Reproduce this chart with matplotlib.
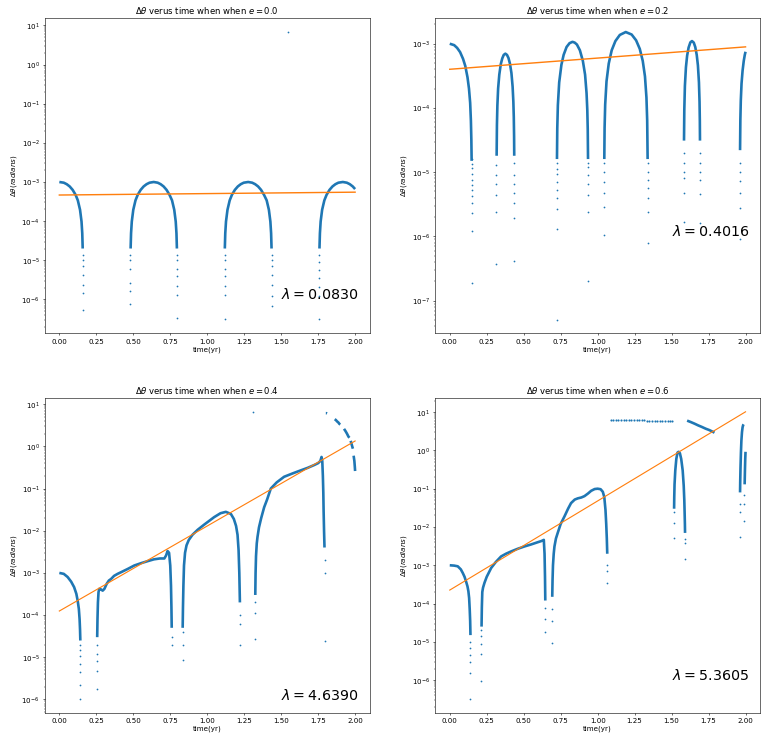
import matplotlib.pyplot as plt

ecc_labels = ["0.0", "0.2", "0.4", "0.6"]
lambda_labels = ["0.0830", "0.4016", "4.6390", "5.3605"]

# fitted exponential line, value at t=0 and t=2
fit_t = [0.0, 2.0]
fit_e00 = [4.65e-4, 5.5e-4]
fit_e02 = [4.0e-4, 8.93e-4]
fit_e04 = [1.25e-4, 1.34]
fit_e06 = [2.25e-4, 10.2]

arc_y = [2e-5, 4.9e-5, 9.8e-5, 1.95e-4, 3.4e-4, 4.7e-4, 6.3e-4, 7.7e-4, 8.8e-4, 9.6e-4, 1e-3,
         9.6e-4, 8.8e-4, 7.7e-4, 6.3e-4, 4.7e-4, 3.4e-4, 1.95e-4, 9.8e-5, 4.9e-5, 2e-5]

# e = 0.0 : dense parts of the scatter (drawn as thick curves)
e00_curves = [
    ([0.0, 0.03, 0.05, 0.07, 0.09, 0.11, 0.125, 0.14, 0.15, 0.155, 0.158],
     [1.0e-3, 9.6e-4, 8.8e-4, 7.7e-4, 6.3e-4, 4.7e-4, 3.4e-4, 1.95e-4, 9.8e-5, 4.9e-5, 2e-5]),
    ([0.482, 0.485, 0.49, 0.50, 0.515, 0.53, 0.55, 0.57, 0.59, 0.61, 0.638,
      0.665, 0.685, 0.705, 0.725, 0.745, 0.762, 0.777, 0.787, 0.792, 0.795], arc_y),
    ([1.119, 1.122, 1.127, 1.137, 1.152, 1.167, 1.187, 1.207, 1.227, 1.247, 1.277,
      1.304, 1.324, 1.344, 1.364, 1.384, 1.402, 1.417, 1.427, 1.432, 1.435], arc_y),
    ([1.759, 1.762, 1.767, 1.777, 1.792, 1.807, 1.827, 1.847, 1.867, 1.887, 1.917,
      1.944, 1.964, 1.984, 2.0],
     [2e-5, 4.9e-5, 9.8e-5, 1.95e-4, 3.4e-4, 4.7e-4, 6.3e-4, 7.7e-4, 8.8e-4, 9.6e-4, 1e-3,
      9.6e-4, 8.8e-4, 7.7e-4, 6.6e-4]),
]
# sparse points (time, values)
e00_dots = [
    (0.160, [1.4e-5, 1e-5, 7e-6, 4.3e-6, 2.4e-6, 1.45e-6, 5.3e-7]),
    (0.481, [1.4e-5, 1e-5, 6e-6, 2.7e-6, 1.65e-6, 7.8e-7]),
    (0.797, [1.4e-5, 1e-5, 6e-6, 4e-6, 2.2e-6, 1.3e-6, 3.4e-7]),
    (1.118, [1.4e-5, 1e-5, 6e-6, 4e-6, 2.2e-6, 1.3e-6, 3.2e-7]),
    (1.437, [1.4e-5, 1e-5, 7e-6, 4.3e-6, 2.4e-6, 1.2e-6, 7e-7]),
    (1.758, [1.4e-5, 9e-6, 5.5e-6, 3.6e-6, 2.1e-6, 1.2e-6, 3.1e-7]),
    (1.547, [6.6]),
]

# e = 0.2
e02_curves = [
    ([0.0, 0.03, 0.05, 0.07, 0.09, 0.105, 0.12, 0.13, 0.138, 0.143, 0.146, 0.148],
     [1.0e-3, 9.5e-4, 8.6e-4, 7.4e-4, 5.8e-4, 4.5e-4, 3.0e-4, 2.0e-4, 1.2e-4, 6.3e-5, 3.2e-5, 1.5e-5]),
    ([0.317, 0.319, 0.322, 0.327, 0.335, 0.345, 0.355, 0.365, 0.376, 0.387, 0.397, 0.407,
      0.417, 0.425, 0.43, 0.433, 0.435, 0.436],
     [1.8e-5, 5.4e-5, 1.09e-4, 2.0e-4, 3.3e-4, 4.8e-4, 5.9e-4, 6.7e-4, 7.0e-4, 6.7e-4, 6.0e-4, 4.9e-4,
      3.5e-4, 2.15e-4, 1.26e-4, 7.2e-5, 3.6e-5, 1.8e-5]),
    ([0.725, 0.727, 0.731, 0.74, 0.755, 0.77, 0.79, 0.81, 0.83, 0.845, 0.86, 0.88, 0.90,
      0.915, 0.925, 0.93, 0.933, 0.935],
     [1.6e-5, 4.8e-5, 1.1e-4, 2.5e-4, 4.7e-4, 6.7e-4, 8.9e-4, 1.02e-3, 1.07e-3, 1.04e-3, 9.7e-4,
      7.9e-4, 5.4e-4, 3.3e-4, 1.7e-4, 9.4e-5, 4.7e-5, 1.6e-5]),
    ([1.045, 1.047, 1.051, 1.06, 1.075, 1.095, 1.12, 1.15, 1.19, 1.23, 1.26, 1.285, 1.305,
      1.32, 1.33, 1.335, 1.338],
     [1.6e-5, 4.9e-5, 1.13e-4, 2.6e-4, 4.9e-4, 7.9e-4, 1.1e-3, 1.37e-3, 1.52e-3, 1.39e-3, 1.13e-3,
      8.3e-4, 5.4e-4, 3.1e-4, 1.45e-4, 6.4e-5, 1.6e-5]),
    ([1.584, 1.586, 1.59, 1.597, 1.605, 1.615, 1.627, 1.638, 1.65, 1.66, 1.67, 1.678, 1.685,
      1.689, 1.691, 1.692],
     [3.1e-5, 9.4e-5, 2.2e-4, 4.3e-4, 6.5e-4, 8.7e-4, 1.05e-3, 1.1e-3, 1.04e-3, 8.9e-4, 6.7e-4,
      4.6e-4, 2.5e-4, 1.25e-4, 6.3e-5, 3.1e-5]),
    ([1.963, 1.965, 1.968, 1.973, 1.98, 1.988, 1.995, 2.0],
     [2.2e-5, 6.5e-5, 1.3e-4, 2.4e-4, 3.8e-4, 5.4e-4, 6.7e-4, 7.5e-4]),
]
e02_dots = [
    (0.149, [1.6e-5, 1.35e-5, 1.15e-5, 9.5e-6, 7.5e-6, 6.3e-6, 5.3e-6, 4.2e-6, 3.3e-6, 2.3e-6, 1.2e-6, 1.9e-7]),
    (0.316, [1.3e-5, 8.9e-6, 6.5e-6, 4.4e-6, 2.4e-6, 3.7e-7]),
    (0.437, [1.4e-5, 8.9e-6, 6.6e-6, 4.7e-6, 3.3e-6, 1.9e-6, 4.2e-7]),
    (0.724, [1.4e-5, 1.14e-5, 9.5e-6, 7.1e-6, 5.3e-6, 4.0e-6, 2.65e-6, 1.3e-6, 5e-8]),
    (0.936, [1.4e-5, 1.2e-5, 8.9e-6, 6.6e-6, 4.4e-6, 2.4e-6, 2e-7]),
    (1.044, [1.4e-5, 1e-5, 7e-6, 4.8e-6, 2.9e-6, 1.05e-6]),
    (1.339, [1.4e-5, 1e-5, 7.5e-6, 5.6e-6, 4e-6, 2.4e-6, 8e-7]),
    (1.583, [2e-5, 1.4e-5, 1e-5, 8e-6, 4.8e-6, 1.7e-6]),
    (1.693, [2e-5, 1.4e-5, 1e-5, 7.6e-6, 4.5e-6, 1.6e-6]),
    (1.962, [1.4e-5, 1e-5, 7.3e-6, 4.8e-6, 2.8e-6, 9e-7]),
]

# e = 0.4
e04_curves = [
    ([0.0, 0.03, 0.056, 0.08, 0.10, 0.115, 0.124, 0.132, 0.137, 0.14, 0.142],
     [1.0e-3, 9.5e-4, 8.0e-4, 6.2e-4, 4.6e-4, 3.2e-4, 2.2e-4, 1.4e-4, 8e-5, 4.5e-5, 2.5e-5]),
    ([0.256, 0.258, 0.261, 0.265, 0.27, 0.28, 0.293, 0.305, 0.32, 0.335, 0.35, 0.37, 0.394,
      0.42, 0.462, 0.507, 0.552, 0.597, 0.64, 0.68, 0.71, 0.722, 0.732, 0.742, 0.75, 0.755,
      0.758, 0.76],
     [3e-5, 8e-5, 2e-4, 3.5e-4, 4.2e-4, 4.1e-4, 3.8e-4, 4.2e-4, 5.5e-4, 6.6e-4, 7.2e-4, 8.5e-4,
      9.5e-4, 1.05e-3, 1.24e-3, 1.5e-3, 1.7e-3, 1.9e-3, 2.1e-3, 2.2e-3, 2.2e-3, 2.6e-3, 3.3e-3,
      3.0e-3, 1.5e-3, 5e-4, 1.5e-4, 5e-5]),
    ([0.834, 0.836, 0.839, 0.843, 0.85, 0.86, 0.875, 0.9, 0.935, 0.98, 1.047, 1.09, 1.126,
      1.16, 1.18, 1.195, 1.205, 1.212, 1.217, 1.221],
     [5e-5, 1.5e-4, 5e-4, 1.5e-3, 3e-3, 4.5e-3, 6e-3, 8e-3, 1.05e-2, 1.4e-2, 2.1e-2, 2.6e-2,
      2.8e-2, 2.5e-2, 1.9e-2, 1.3e-2, 8e-3, 3.5e-3, 1e-3, 2e-4]),
    ([1.325, 1.327, 1.33, 1.335, 1.34, 1.35, 1.365, 1.385, 1.405, 1.43, 1.47, 1.52, 1.58,
      1.633, 1.68, 1.723, 1.75, 1.765, 1.773, 1.778, 1.782, 1.785, 1.787, 1.79, 1.793],
     [3e-4, 1e-3, 2.5e-3, 5e-3, 7.1e-3, 1.2e-2, 2e-2, 3.6e-2, 5.5e-2, 0.1, 0.14, 0.19, 0.23,
      0.27, 0.31, 0.36, 0.4, 0.45, 0.56, 0.45, 0.2, 0.08, 0.03, 1e-2, 4e-3]),
    ([1.802, 1.806, 1.81], [6.1, 6.1, 6.0]),
    ([1.862, 1.87, 1.878, 1.886, 1.894, 1.9], [4.4, 4.2, 3.9, 3.7, 3.4, 3.3]),
    ([1.925, 1.935, 1.945, 1.955, 1.962], [2.6, 2.3, 2.0, 1.7, 1.6]),
    ([1.97, 1.977, 1.985], [1.35, 1.1, 0.88]),
    ([1.99, 1.995, 1.998, 2.0], [0.6, 0.45, 0.33, 0.26]),
]
e04_dots = [
    (0.143, [2e-5, 1.5e-5, 1.1e-5, 7e-6, 4.5e-6, 2.2e-6, 1e-6]),
    (0.255, [2e-5, 1.2e-5, 8e-6, 4.7e-6, 1.8e-6]),
    (0.761, [3e-5, 2e-5]),
    (0.833, [4e-5, 2e-5, 8.5e-6]),
    (1.223, [1e-4, 6e-5, 2e-5]),
    (1.324, [2e-4, 1.1e-4, 2.7e-5]),
    (1.795, [2e-3, 1e-3, 2.4e-5]),
    (1.311, [6.6]),
]

# e = 0.6
e06_curves = [
    ([0.0, 0.03, 0.054, 0.075, 0.088, 0.1, 0.11, 0.12, 0.126, 0.131, 0.135, 0.138, 0.14],
     [1.0e-3, 9.8e-4, 9.4e-4, 7.8e-4, 6.3e-4, 5e-4, 3.8e-4, 2.8e-4, 2.1e-4, 1.4e-4, 7e-5, 3.5e-5, 1.5e-5]),
    ([0.215, 0.217, 0.22, 0.225, 0.235, 0.25, 0.28, 0.31, 0.347, 0.38, 0.415, 0.46, 0.505,
      0.55, 0.595, 0.62, 0.636, 0.641, 0.644, 0.646],
     [2.5e-5, 8e-5, 2e-4, 2.6e-4, 3.5e-4, 5e-4, 8.5e-4, 1.2e-3, 1.7e-3, 2e-3, 2.3e-3, 2.7e-3,
      3.1e-3, 3.5e-3, 4.0e-3, 4.3e-3, 4.6e-3, 2e-3, 5e-4, 1.2e-4]),
    ([0.693, 0.695, 0.698, 0.703, 0.708, 0.718, 0.73, 0.75, 0.776, 0.8, 0.82, 0.845, 0.866,
      0.89, 0.911, 0.935, 0.956, 0.98, 1.0, 1.02, 1.035, 1.045, 1.053, 1.058, 1.062, 1.065],
     [1.5e-4, 4e-4, 1e-3, 2e-3, 3.1e-3, 5e-3, 7e-3, 1.2e-2, 1.9e-2, 3e-2, 4.2e-2, 5.2e-2, 5.6e-2,
      5.9e-2, 6.4e-2, 7.5e-2, 8.8e-2, 0.098, 0.1, 0.097, 8.3e-2, 6e-2, 2.8e-2, 1.2e-2, 5e-3, 2e-3]),
    ([1.517, 1.518, 1.52, 1.525, 1.532, 1.54, 1.548, 1.556, 1.565, 1.575, 1.582, 1.586, 1.588,
      1.59, 1.591],
     [3e-2, 0.06, 0.13, 0.3, 0.6, 0.88, 0.92, 0.85, 0.6, 0.3, 0.12, 0.05, 0.025, 0.012, 7e-3]),
    ([1.605, 1.63, 1.655, 1.68, 1.705, 1.73, 1.755, 1.78, 1.79],
     [6.0, 5.5, 5.0, 4.5, 4.1, 3.7, 3.4, 3.05, 2.9]),
    ([1.963, 1.964, 1.966, 1.969, 1.972, 1.976, 1.98, 1.984, 1.987],
     [0.08, 0.15, 0.35, 0.9, 1.8, 3.0, 4.0, 4.6, 4.8]),
    ([1.994, 1.996, 1.998, 2.0], [0.13, 0.3, 0.6, 0.92]),
]
e06_top_t = [1.087, 1.105, 1.122, 1.14, 1.158, 1.175, 1.193, 1.21, 1.228, 1.245, 1.263, 1.28,
             1.298, 1.315, 1.333, 1.35, 1.368, 1.385, 1.403, 1.42, 1.438, 1.455, 1.473, 1.49, 1.502]
e06_top_y = [6.4, 6.3, 6.3, 6.3, 6.3, 6.3, 6.2, 6.2, 6.2, 6.2, 6.2, 6.1, 6.1, 6.1, 6.0, 5.95,
             5.9, 5.9, 5.9, 5.85, 5.85, 5.85, 5.8, 5.8, 5.8]
e06_dots = [
    (0.14, [1e-5, 7e-6, 4.5e-6, 2.9e-6, 1.5e-6, 3.2e-7]),
    (0.214, [2e-5, 1.4e-5, 9e-6, 4.9e-6, 9.6e-7]),
    (0.646, [7.7e-5, 4e-5, 1.8e-5]),
    (0.692, [7e-5, 3.4e-5, 9.4e-6]),
    (1.066, [1e-3, 7e-4, 3.4e-4]),
    (1.517, [2.5e-2, 1.3e-2, 5.3e-3]),
    (1.592, [5e-3, 3.8e-3, 1.5e-3]),
    (1.962, [4e-2, 2.4e-2, 5.6e-3]),
    (1.993, [7e-2, 4e-2, 1.4e-2]),
]

panels = [
    (e00_curves, e00_dots, fit_e00, (1.37e-7, 15.3), 0.124),
    (e02_curves, e02_dots, fit_e02, (3.1e-8, 2.5e-3), 0.323),
    (e04_curves, e04_dots, fit_e04, (4.8e-7, 14.1), 0.058),
    (e06_curves, e06_dots, fit_e06, (1.39e-7, 23.6), 0.12),
]

fig, axes = plt.subplots(2, 2, figsize=(15, 14.56))
plt.subplots_adjust(left=0.058, right=0.99, bottom=0.043, top=0.975, wspace=0.2, hspace=0.205)

for i, (ax, (curves, dots, fit, ylim, ty)) in enumerate(zip(axes.flat, panels)):
    for t, y in curves:
        ax.plot(t, y, color='C0', lw=3.7, solid_capstyle='butt')
    for t, vals in dots:
        ax.scatter([t] * len(vals), vals, s=6, color='C0', linewidths=0)
    if i == 3:
        ax.scatter(e06_top_t, e06_top_y, s=9, color='C0', linewidths=0)
    ax.plot(fit_t, fit, color='C1', lw=2 if i < 2 else 1.6)
    ax.set_yscale('log')
    ax.set_xlim(-0.1, 2.1)
    ax.set_ylim(*ylim)
    ax.set_title(f'$\\Delta\\theta$ verus time when when $e={ecc_labels[i]}$')
    ax.set_xlabel('time(yr)', labelpad=2)
    ax.set_ylabel('$\\Delta\\theta(radians)$')
    ax.text(1.5, ty, f'$\\lambda={lambda_labels[i]}$', fontsize=20, va='center',
            transform=ax.get_xaxis_transform())

plt.savefig('out.png', dpi=51.2)
